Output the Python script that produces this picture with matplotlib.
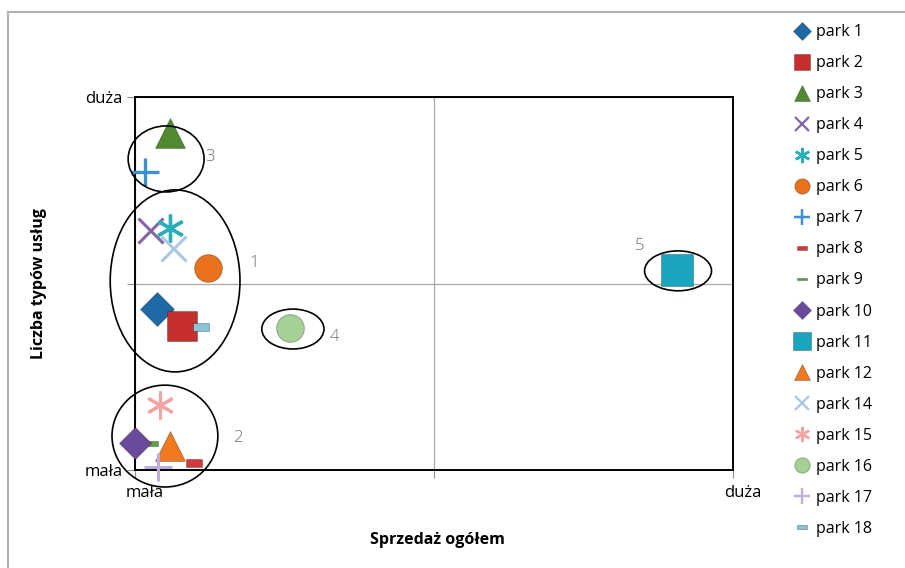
import matplotlib
matplotlib.use("Agg")
import matplotlib.pyplot as plt
from matplotlib.patches import Ellipse
from matplotlib.lines import Line2D
from matplotlib.transforms import ScaledTranslation

plt.rcParams['font.family'] = ['Open Sans', 'DejaVu Sans']

# --- Data: parks placed on sales (x) vs number of service types (y), 0..10 scale ---
parks = ['park 1', 'park 2', 'park 3', 'park 4', 'park 5', 'park 6', 'park 7',
         'park 8', 'park 9', 'park 10', 'park 11', 'park 12', 'park 14',
         'park 15', 'park 16', 'park 17', 'park 18']
sales = [0.37, 0.79, 0.59, 0.25, 0.59, 1.22, 0.17,
         0.99, 0.25, 0.00, 9.06, 0.59, 0.64,
         0.42, 2.59, 0.38, 1.10]
services = [4.32, 3.86, 9.03, 6.43, 6.49, 5.42, 7.99,
            0.19, 0.72, 0.72, 5.36, 0.64, 5.95,
            1.74, 3.81, 0.08, 3.83]

# cluster ellipses: centre x, centre y, width, height, label position
cluster_ids = ['1', '2', '3', '4', '5']
cluster_cx = [0.67, 0.50, 0.52, 2.64, 9.08]
cluster_cy = [5.07, 0.91, 8.34, 3.78, 5.34]
cluster_w = [2.17, 1.77, 1.27, 1.04, 1.12]
cluster_h = [4.88, 2.73, 1.77, 1.07, 1.07]
label_x = [1.99, 1.72, 1.25, 3.34, 8.44]
label_y = [5.55, 0.86, 8.39, 3.57, 6.00]

tick_pos = [0, 5, 10]
x_ticklabels = ['mała', '', 'duża']
y_ticklabels = ['mała', '', 'duża']

# --- Marker styles ---
wide_rect = [(-1, -0.5), (1, -0.5), (1, 0.5), (-1, 0.5), (-1, -0.5)]
thin_rect = [(-1, -0.3), (1, -0.3), (1, 0.3), (-1, 0.3), (-1, -0.3)]
asterisk = (6, 2, 0)

styles = [
    dict(marker='D', color='#1d6aa6', ms=17),
    dict(marker='s', color='#c62f2c', ms=21),
    dict(marker='^', color='#4f8a31', ms=22),
    dict(marker='x', color='#8466a6', ms=18, mew=2.2),
    dict(marker=asterisk, color='#2aaeb8', ms=20, mew=2.4),
    dict(marker='o', color='#ea721c', ms=20),
    dict(marker='+', color='#3d8fd2', ms=20, mew=2.4),
    dict(marker=wide_rect, color='#d2393a', ms=12),
    dict(marker=thin_rect, color='#62a143', ms=12),
    dict(marker='D', color='#6a4b9b', ms=16),
    dict(marker='s', color='#1aa7be', ms=23),
    dict(marker='^', color='#f17a20', ms=22),
    dict(marker='x', color='#a9c8e6', ms=18, mew=2.2),
    dict(marker=asterisk, color='#f2a3a2', ms=20, mew=2.2),
    dict(marker='o', color='#a6d194', ms=20),
    dict(marker='+', color='#bcaed8', ms=20, mew=2.2),
    dict(marker=wide_rect, color='#86c6d6', ms=12),
]

fig = plt.figure(figsize=(9.05, 5.68), dpi=100)
ax = fig.add_axes([0.1492, 0.1725, 0.6608, 0.6567])

line_markers = ('x', '+', asterisk)
handles = []
for name, xv, yv, st in zip(parks, sales, services, styles):
    m = st['marker']
    filled = m not in line_markers
    kw = dict(linestyle='none', marker=m, markersize=st['ms'],
              color=st['color'], clip_on=False, zorder=3)
    if filled:
        kw.update(markeredgecolor='#00000040', markeredgewidth=0.8)
    else:
        kw.update(markeredgewidth=st['mew'])
    ax.plot([xv], [yv], **kw)
    hkw = dict(kw)
    hkw.pop('clip_on'); hkw.pop('zorder')
    hkw['markersize'] = st['ms'] * 0.55
    if not filled:
        hkw['markeredgewidth'] = st['mew'] * 0.75
    handles.append(Line2D([], [], label=name, **hkw))

for cid, cx, cy, w, h, lx, ly in zip(cluster_ids, cluster_cx, cluster_cy,
                                     cluster_w, cluster_h, label_x, label_y):
    ax.add_patch(Ellipse((cx, cy), w, h, fill=False, edgecolor='black',
                         linewidth=1.2, clip_on=False, zorder=4))
    ax.text(lx, ly, cid, color='#707070', fontsize=12, fontweight='light',
            ha='center', va='center')

ax.set_xlim(0, 10)
ax.set_ylim(0, 10)
ax.set_xticks(tick_pos)
ax.set_xticklabels(x_ticklabels, fontsize=12)
ax.set_yticks(tick_pos)
ax.set_yticklabels(y_ticklabels, fontsize=12)
ax.tick_params(length=6, color='#909090', pad=3)
ax.tick_params(axis='x', pad=5)
ax.grid(True, color='#a8a8a8', linewidth=0.9)
ax.set_axisbelow(True)
for sp in ax.spines.values():
    sp.set_color('black')
    sp.set_linewidth(1.4)

# nudge the x tick labels slightly to the right
shift = ScaledTranslation(10 / 100, 0, fig.dpi_scale_trans)
for lab in ax.get_xticklabels():
    lab.set_transform(lab.get_transform() + shift)

ax.set_xlabel('Sprzedaż ogółem', fontsize=11.5, fontweight='bold')
ax.set_ylabel('Liczba typów usług', fontsize=11.5, fontweight='bold')
ax.xaxis.set_label_coords(0.505, -0.166)
ax.yaxis.set_label_coords(-0.147, 0.5)

fig.legend(handles=handles, loc='upper left',
           bbox_to_anchor=(786 / 905, 1 - 18 / 568), frameon=False,
           fontsize=11.5, labelspacing=0.94, handlelength=1.2,
           handletextpad=0.3, borderaxespad=0)

# chart frame
fig.add_artist(Line2D([8 / 905, 8 / 905], [0, 1 - 12 / 568],
                      color='#b0b0b0', linewidth=1.5, transform=fig.transFigure))
fig.add_artist(Line2D([8 / 905, 1], [1 - 12 / 568, 1 - 12 / 568],
                      color='#b0b0b0', linewidth=1.5, transform=fig.transFigure))

fig.savefig('out.png', dpi=100)
